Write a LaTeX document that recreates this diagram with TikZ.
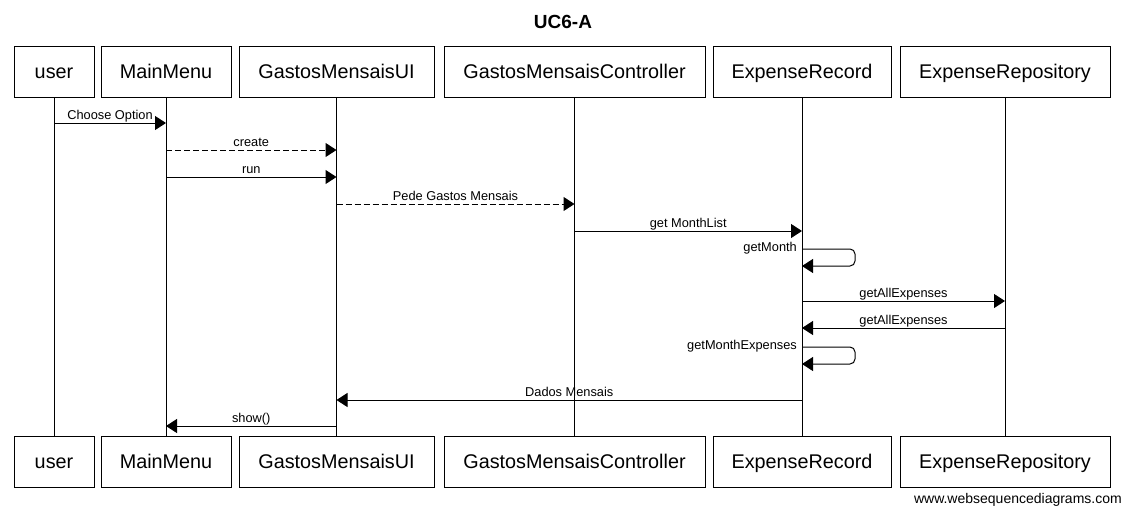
\documentclass[tikz,border=0pt]{standalone}
\usepackage{fontspec}
\setmainfont{Liberation Sans}
\usetikzlibrary{arrows.meta}

\tikzset{
	actor/.style = {draw, line width = 1pt, minimum height = 51pt, inner sep = 0pt, text height = 16pt, text depth = 2pt, font = \fontsize{19.8}{22}\selectfont},
	msg/.style = {line width = 1pt, -{Triangle[length = 11pt, width = 14pt]}},
	ret/.style = {msg, dash pattern = on 6pt off 3pt},
	lbl/.style = {font = \fontsize{12.8}{14}\selectfont, inner sep = 0pt, anchor = base, yshift = 3.5pt}
}

\begin{document}
\begin{tikzpicture}[x = 1pt, y = -1pt]
	
		\useasboundingbox (0, 0) rectangle (1123, 509);
		
		\node[font = \bfseries\fontsize{19}{22}\selectfont] (title) at (563, 22) {UC6-A};
		
		% participants, top row
		\node[actor, minimum width = 80pt] (user) at (54, 71.5) {user};
		\node[actor, minimum width = 130pt] (menu) at (166, 71.5) {MainMenu};
		\node[actor, minimum width = 195pt] (ui) at (336.5, 71.5) {GastosMensaisUI};
		\node[actor, minimum width = 261pt] (ctrl) at (574.5, 71.5) {GastosMensaisController};
		\node[actor, minimum width = 178pt] (rec) at (802, 71.5) {ExpenseRecord};
		\node[actor, minimum width = 210pt] (repo) at (1005, 71.5) {ExpenseRepository};
		
		% participants, bottom row
		\node[actor, minimum width = 80pt] (userB) at (54, 461.5) {user};
		\node[actor, minimum width = 130pt] (menuB) at (166, 461.5) {MainMenu};
		\node[actor, minimum width = 195pt] (uiB) at (336.5, 461.5) {GastosMensaisUI};
		\node[actor, minimum width = 261pt] (ctrlB) at (574.5, 461.5) {GastosMensaisController};
		\node[actor, minimum width = 178pt] (recB) at (802, 461.5) {ExpenseRecord};
		\node[actor, minimum width = 210pt] (repoB) at (1005, 461.5) {ExpenseRepository};
		
		% lifelines
		\draw[line width = 1pt] (user.south) -- (userB.north);
		\draw[line width = 1pt] (menu.south) -- (menuB.north);
		\draw[line width = 1pt] (ui.south) -- (uiB.north);
		\draw[line width = 1pt] (ctrl.south) -- (ctrlB.north);
		\draw[line width = 1pt] (rec.south) -- (recB.north);
		\draw[line width = 1pt] (repo.south) -- (repoB.north);
		
		% messages
		\draw[msg] (user |- 0, 123) -- node[lbl] {Choose Option} (menu |- 0, 123);
		\draw[ret] (menu |- 0, 150) -- node[lbl] {create} (ui |- 0, 150);
		\draw[msg] (menu |- 0, 177) -- node[lbl] {run} (ui |- 0, 177);
		\draw[ret] (ui |- 0, 204) -- node[lbl] {Pede Gastos Mensais} (ctrl |- 0, 204);
		\draw[msg] (ctrl |- 0, 231) -- node[lbl] {get MonthList} (rec |- 0, 231);
		
		\draw[msg, rounded corners = 5pt] (rec |- 0, 249) -- (855, 249) -- (855, 266) -- (rec |- 0, 266);
		\node[lbl, anchor = base east, yshift = 0pt] (getm) at ([xshift = -5pt] rec |- 0, 255) {getMonth};
		
		\draw[msg] (rec |- 0, 301) -- node[lbl] {getAllExpenses} (repo |- 0, 301);
		\draw[msg] (repo |- 0, 328) -- node[lbl] {getAllExpenses} (rec |- 0, 328);
		
		\draw[msg, rounded corners = 5pt] (rec |- 0, 347) -- (855, 347) -- (855, 364) -- (rec |- 0, 364);
		\node[lbl, anchor = base east, yshift = 0pt] (getme) at ([xshift = -5pt] rec |- 0, 353) {getMonthExpenses};
		
		\draw[msg] (rec |- 0, 400) -- node[lbl] {Dados Mensais} (ui |- 0, 400);
		\draw[msg] (ui |- 0, 426) -- node[lbl] {show()} (menu |- 0, 426);
		
		\node[font = \fontsize{14}{16}\selectfont, anchor = east, inner sep = 0pt] (site) at (1122, 500) {www.websequencediagrams.com};
		
	\end{tikzpicture}
\end{document}
